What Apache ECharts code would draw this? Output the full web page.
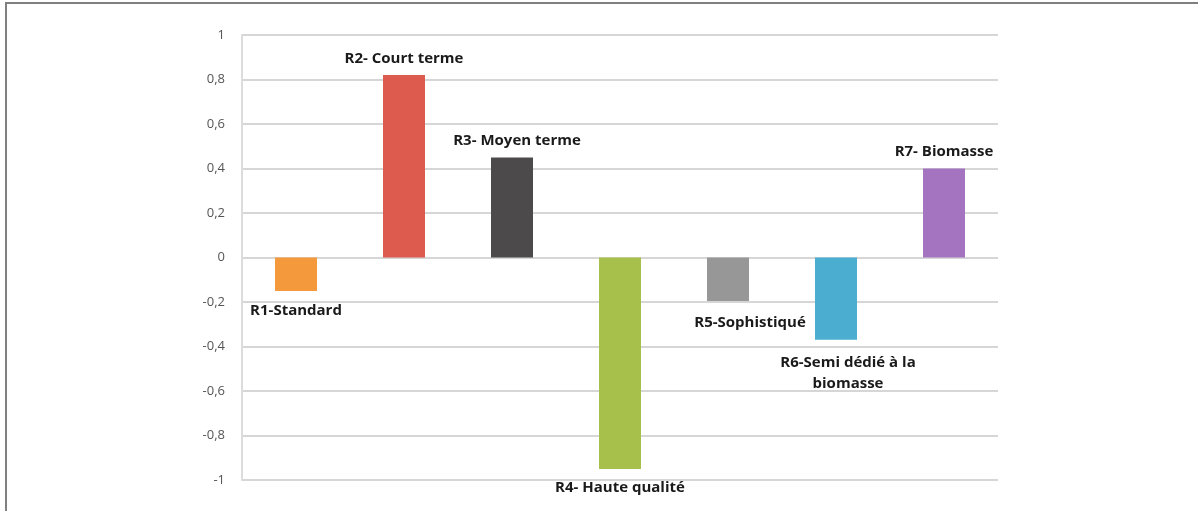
<!DOCTYPE html>
<html>
<head>
<meta charset="utf-8">
<script src="https://cdn.jsdelivr.net/npm/echarts@6/dist/echarts.min.js"></script>
<style>
html,body{margin:0;padding:0;background:#fff;}
#c{width:1198px;height:511px;}
</style>
</head>
<body>
<div id="c"></div>
<script>
const categories = ['R1-Standard', 'R2- Court terme', 'R3- Moyen terme', 'R4- Haute qualité', 'R5-Sophistiqué', 'R6-Semi dédié à la\nbiomasse', 'R7- Biomasse'];
const values = [-0.15, 0.82, 0.45, -0.95, -0.195, -0.37, 0.40];
const colors = ['#F59A3C', '#DD5A4E', '#4D4A4B', '#A7BF4B', '#979797', '#4BADCF', '#A474C0'];
const yTicks = [-1, 1, 0.2];

const labelOffsets = [[0, 4], [0, -1], [5, -1], [0, 3], [22, 6], [12, 7], [0, -1]];

const chart = echarts.init(document.getElementById('c'));
chart.setOption({
  animation: false,
  grid: {left: 242, right: 200, top: 35, bottom: 31},
  xAxis: {
    type: 'category',
    data: categories,
    axisLine: {show: false},
    axisTick: {show: false},
    axisLabel: {show: false},
    splitLine: {show: false}
  },
  yAxis: {
    type: 'value',
    min: yTicks[0], max: yTicks[1], interval: yTicks[2],
    axisLine: {show: true, lineStyle: {color: '#dcdcdc', width: 2}},
    axisTick: {show: false},
    axisLabel: {
      color: '#555555', fontSize: 13, fontFamily: 'Open Sans', margin: 17,
      formatter: v => String(Math.round(v * 10) / 10).replace('.', ',')
    },
    splitLine: {lineStyle: {color: '#d6d6d6', width: 2}}
  },
  series: [{
    type: 'bar',
    barWidth: 42,
    data: values.map((v, i) => ({
      value: v,
      itemStyle: {color: colors[i]},
      label: {
        show: true,
        position: v >= 0 ? 'top' : 'bottom',
        offset: labelOffsets[i],
        formatter: categories[i],
        color: '#1a1a1a',
        fontWeight: 'bold',
        fontSize: 15,
        fontFamily: 'Open Sans',
        lineHeight: 21,
        align: 'center'
      }
    }))
  }],
  graphic: [
    {type: 'line', shape: {x1: 5, y1: 3, x2: 1198, y2: 3}, style: {stroke: '#808080', lineWidth: 2}, silent: true},
    {type: 'line', shape: {x1: 6, y1: 3, x2: 6, y2: 511}, style: {stroke: '#808080', lineWidth: 2}, silent: true}
  ]
});
</script>
</body>
</html>
